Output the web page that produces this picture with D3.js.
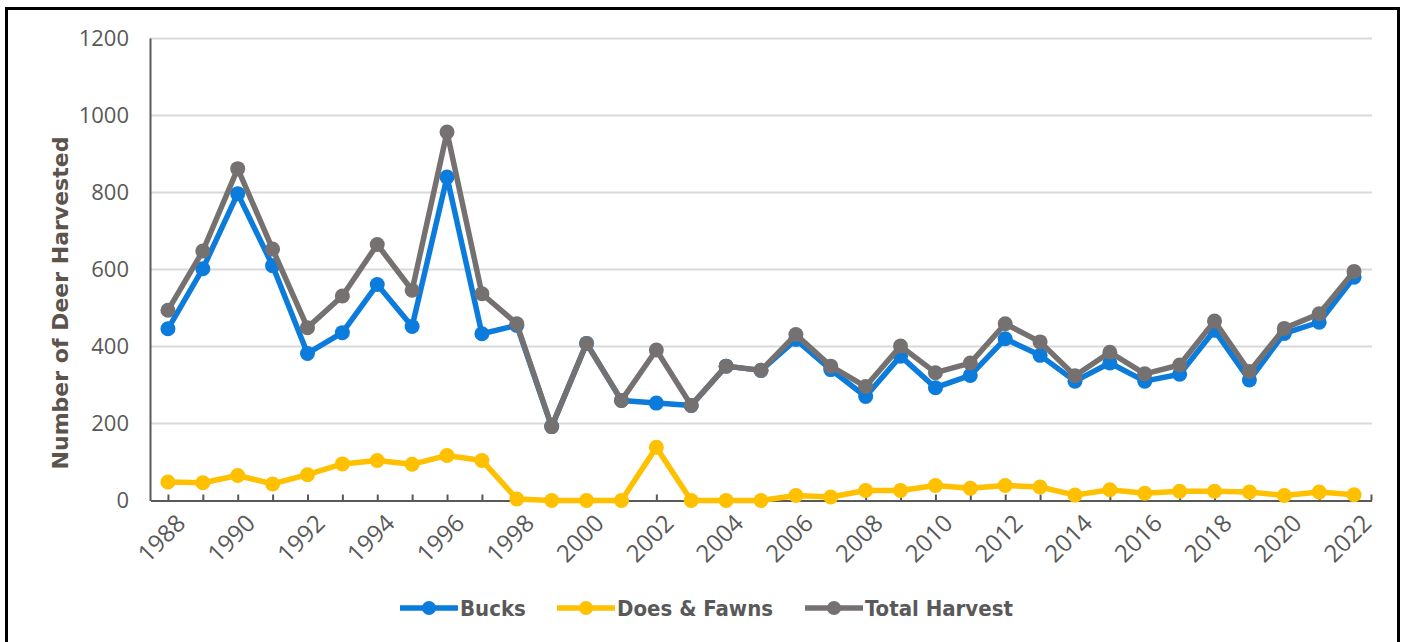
<!DOCTYPE html>
<html>
<head>
<meta charset="utf-8">
<script src="https://cdn.jsdelivr.net/npm/d3@7"></script>
<style>
  html, body { margin: 0; padding: 0; background: #fff; }
  svg { display: block; }
</style>
</head>
<body>
<svg id="chart" width="1406" height="642"></svg>
<script>
const years = ["1988","1989","1990","1991","1992","1993","1994","1995","1996","1997","1998","1999","2000","2001","2002","2003","2004","2005","2006","2007","2008","2009","2010","2011","2012","2013","2014","2015","2016","2017","2018","2019","2020","2021","2022"];
const bucks = [446,602,797,610,382,436,561,452,840,433,455,192,408,260,253,247,349,338,418,340,270,375,293,325,420,377,310,357,310,328,442,313,434,463,580];
const doesFawns = [48,46,65,43,67,95,104,94,117,104,4,0,0,0,138,0,0,0,13,9,26,26,39,32,39,35,14,28,19,24,24,22,13,22,15];
const totalHarvest = [494,648,862,653,449,531,665,546,957,537,459,192,408,260,391,247,349,338,431,349,296,401,332,357,459,412,324,385,329,352,466,335,447,485,595];
const yTicks = [0,200,400,600,800,1000,1200];
const xLabelYears = years.filter((d, i) => i % 2 === 0);
const seriesNames = ["Bucks", "Does & Fawns", "Total Harvest"];
const seriesColors = ["#0b7bdc", "#ffc000", "#767171"];
const yTitle = "Number of Deer Harvested";

const svg = d3.select("#chart");
const textColor = "#595959";

// border frame
svg.append("rect")
  .attr("x", 6.5).attr("y", 8.5)
  .attr("width", 1392).attr("height", 700)
  .attr("fill", "none").attr("stroke", "#000").attr("stroke-width", 3);

const x = d3.scalePoint().domain(years).range([150.5, 1371.5]).padding(0.5);
const y = d3.scaleLinear().domain([0, 1200]).range([500.5, 38.5]);

// gridlines
svg.append("g").selectAll("line").data(yTicks.filter(d => d > 0)).join("line")
  .attr("x1", 150).attr("x2", 1372)
  .attr("y1", d => y(d)).attr("y2", d => y(d))
  .attr("stroke", "#d9d9d9").attr("stroke-width", 2);

// y axis labels
svg.append("g").selectAll("text").data(yTicks).join("text")
  .attr("x", 129).attr("y", d => y(d))
  .attr("dy", "0.36em")
  .attr("text-anchor", "end")
  .attr("font-family", "'Open Sans', sans-serif")
  .attr("font-size", 22)
  .attr("fill", textColor)
  .text(d => d);

// y axis line
svg.append("line")
  .attr("x1", 150.5).attr("x2", 150.5)
  .attr("y1", y(1200)).attr("y2", 501)
  .attr("stroke", "#595959").attr("stroke-width", 2);

// x axis
const xAxis = d3.axisBottom(x).tickSize(-6).tickSizeOuter(0).tickFormat("");
const gx = svg.append("g").attr("transform", "translate(0,500.5)").call(xAxis);
gx.select(".domain").attr("stroke", "#595959").attr("stroke-width", 2);
gx.selectAll(".tick line").attr("stroke", "#595959").attr("stroke-width", 2);
gx.append("line").attr("x1", 1371.5).attr("x2", 1371.5).attr("y1", 0).attr("y2", -6)
  .attr("stroke", "#595959").attr("stroke-width", 2);

// x labels
svg.append("g").selectAll("text").data(xLabelYears).join("text")
  .attr("transform", d => `translate(${x(d) + 7},${513}) rotate(-45)`)
  .attr("text-anchor", "end")
  .attr("dy", "0.7em")
  .attr("font-family", "'Open Sans', sans-serif")
  .attr("font-size", 24)
  .attr("fill", textColor)
  .text(d => d);

// y title
svg.append("text")
  .attr("transform", `translate(68,303) rotate(-90)`)
  .attr("text-anchor", "middle")
  .attr("font-family", "'DejaVu Sans', sans-serif")
  .attr("font-weight", "bold")
  .attr("font-size", 22)
  .attr("fill", "#5b534c")
  .text(yTitle);

// series
const seriesData = [bucks, doesFawns, totalHarvest];
const line = d3.line().x((d, i) => x(years[i])).y(d => y(d));
seriesData.forEach((vals, si) => {
  const g = svg.append("g");
  g.append("path").datum(vals)
    .attr("d", line)
    .attr("fill", "none")
    .attr("stroke", seriesColors[si])
    .attr("stroke-width", 5.5)
    .attr("stroke-linejoin", "round");
  g.selectAll("circle").data(vals).join("circle")
    .attr("cx", (d, i) => x(years[i]))
    .attr("cy", d => y(d))
    .attr("r", 7.5)
    .attr("fill", seriesColors[si]);
});

// legend
const legendItems = [
  { name: seriesNames[0], color: seriesColors[0], x0: 400 },
  { name: seriesNames[1], color: seriesColors[1], x0: 557 },
  { name: seriesNames[2], color: seriesColors[2], x0: 805 }
];
const lg = svg.append("g");
legendItems.forEach(it => {
  lg.append("line").attr("x1", it.x0).attr("x2", it.x0 + 58)
    .attr("y1", 608).attr("y2", 608)
    .attr("stroke", it.color).attr("stroke-width", 5.5);
  lg.append("circle").attr("cx", it.x0 + 29).attr("cy", 608).attr("r", 7).attr("fill", it.color);
  lg.append("text").attr("x", it.x0 + 60).attr("y", 608)
    .attr("dy", "0.36em")
    .attr("font-family", "'DejaVu Sans Condensed', 'DejaVu Sans', sans-serif")
    .attr("font-weight", "bold")
    .attr("font-size", 22)
    .attr("fill", textColor)
    .text(it.name);
});
</script>
</body>
</html>
